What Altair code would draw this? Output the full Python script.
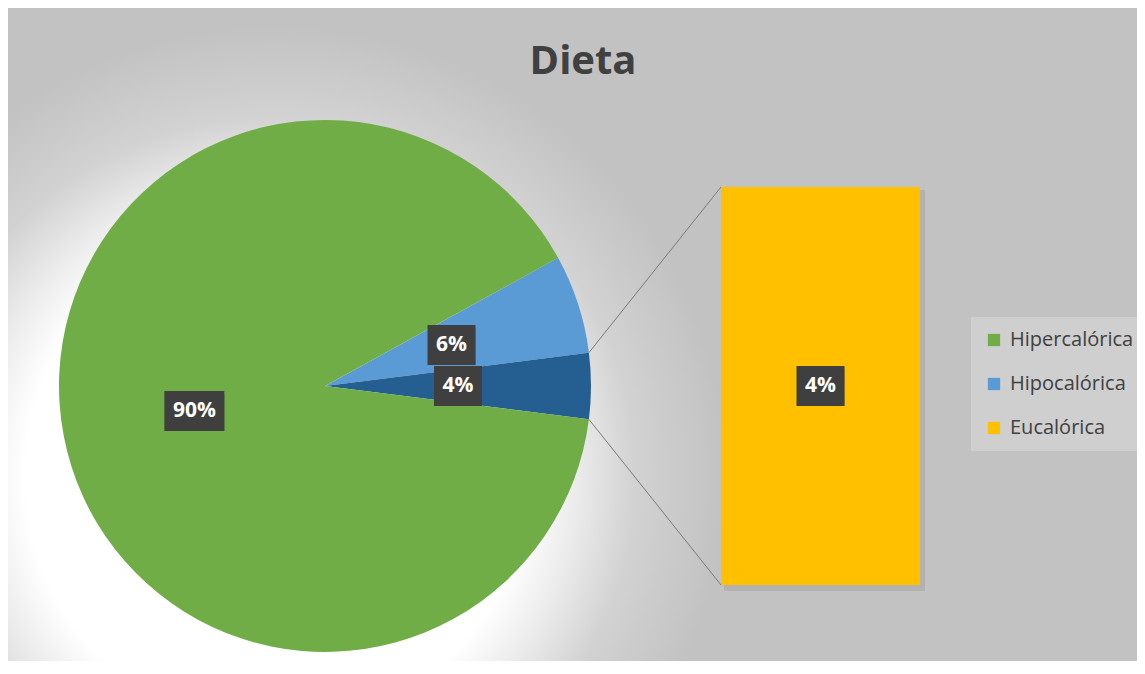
import math
import altair as alt
import pandas as pd

# ---------------- data ----------------
primary_categories = ["Hipercalórica", "Hipocalórica"]
primary_values = [90, 6]
secondary_categories = ["Eucalórica"]
secondary_values = [4]
other_name = "Otros"
chart_title = "Dieta"

# ---------------- layout (chart pixels) ----------------
W, H = 1129, 653
CX, CY, R = 317, 378, 266
LABEL_R = 133
BAR_X1, BAR_X2, BAR_TOP, BAR_BOT = 713, 912, 179, 577
BG = "#c2c2c2"
GREEN, LBLUE, DBLUE, YELLOW = "#70AD47", "#5B9BD5", "#255E91", "#FFC000"
FONT = "Open Sans"

other_val = sum(secondary_values)
pie_cats = [primary_categories[1], other_name, primary_categories[0]]
pie_vals = [primary_values[1], other_val, primary_values[0]]
total = sum(pie_vals)
# Excel pie-of-bar: the "other" slice is centred on 3 o'clock
start = math.pi / 2 - math.pi * other_val / total - 2 * math.pi * pie_vals[0] / total

rows, cum = [], 0
for i, (c, v) in enumerate(zip(pie_cats, pie_vals)):
    mid = start + 2 * math.pi * (cum + v / 2) / total
    lab = f"{v}%"
    rows.append(dict(cat=c, value=v, ord=i, label=lab,
                     lx=CX + LABEL_R * math.sin(mid), ly=CY - LABEL_R * math.cos(mid),
                     bw=12 * len(lab) + 24))
    cum += v
pie_df = pd.DataFrame(rows)

bar_df = pd.DataFrame({"cat": secondary_categories, "value": secondary_values})
bar_lab = pd.DataFrame({"label": [f"{v}%" for v in secondary_values],
                        "lx": [(BAR_X1 + BAR_X2) / 2], "ly": [(BAR_TOP + BAR_BOT) / 2]})
bar_lab["bw"] = bar_lab["label"].str.len() * 12 + 24
labels_df = pd.concat([pie_df[["label", "lx", "ly", "bw"]], bar_lab], ignore_index=True)
labels_df["x1"] = labels_df["lx"] - labels_df["bw"] / 2
labels_df["x2"] = labels_df["lx"] + labels_df["bw"] / 2
labels_df["y1"] = labels_df["ly"] - 20
labels_df["y2"] = labels_df["ly"] + 20

a1 = start + 2 * math.pi * pie_vals[0] / total
a2 = a1 + 2 * math.pi * other_val / total
conn_df = pd.DataFrame({
    "x1": [CX + R * math.sin(a1), CX + R * math.sin(a2)],
    "y1": [CY - R * math.cos(a1), CY - R * math.cos(a2)],
    "x2": [BAR_X1, BAR_X1],
    "y2": [BAR_TOP, BAR_BOT],
})

color = alt.Color(
    "cat:N",
    scale=alt.Scale(domain=primary_categories + secondary_categories + [other_name],
                    range=[GREEN, LBLUE, YELLOW, DBLUE]),
    legend=alt.Legend(
        orient="none", legendX=963, legendY=309, title=None,
        values=primary_categories + secondary_categories,
        symbolType="square", symbolSize=150, symbolStrokeWidth=0,
        labelFont=FONT, labelFontSize=20, labelColor="#404040", labelOffset=6,
        fillColor="#cfcfcf", padding=13, rowPadding=24,
    ),
)

one = pd.DataFrame({"a": [0]})

glow = alt.RadialGradient(
    gradient="radial", x1=0.5, y1=0.5, r1=0, x2=0.5, y2=0.5, r2=0.5,
    stops=[alt.GradientStop(offset=0, color="#ffffff"),
           alt.GradientStop(offset=0.5, color="#ffffff"),
           alt.GradientStop(offset=0.6, color="#ececec"),
           alt.GradientStop(offset=0.72, color="#d2d2d2"),
           alt.GradientStop(offset=0.9, color=BG),
           alt.GradientStop(offset=1, color=BG)],
)
GX, GY, GS = CX - 50, CY + 90, 500
bg = alt.Chart(one).mark_rect(clip=True, color=glow).encode(
    x=alt.value(GX - GS), x2=alt.value(GX + GS), y=alt.value(GY - GS), y2=alt.value(GY + GS))

bar_shadow = alt.Chart(one).mark_rect(color="black", opacity=0.08).encode(
    x=alt.value(BAR_X1 + 3), x2=alt.value(BAR_X2 + 5), y=alt.value(BAR_TOP + 3), y2=alt.value(BAR_BOT + 6))

connectors = alt.Chart(conn_df).mark_rule(color="#7a7a7a", strokeWidth=1).encode(
    x=alt.X("x1:Q", scale=None), y=alt.Y("y1:Q", scale=None),
    x2="x2:Q", y2="y2:Q")

pie = alt.Chart(pie_df).mark_arc(radius=R).encode(
    theta=alt.Theta("value:Q", stack=True,
                    scale=alt.Scale(domain=[0, total], range=[start, start + 2 * math.pi])),
    order=alt.Order("ord:Q"),
    color=color,
    x=alt.value(CX), y=alt.value(CY),
)

bar = alt.Chart(bar_df).transform_stack(
    stack="value", as_=["v0", "v1"], groupby=[]
).mark_rect().encode(
    y=alt.Y("v1:Q", scale=alt.Scale(domain=[0, other_val], range=[BAR_BOT, BAR_TOP]), axis=None),
    y2="v0:Q",
    x=alt.value(BAR_X1), x2=alt.value(BAR_X2),
    color=color,
)

box_shadow = alt.Chart(labels_df).mark_rect(color="black", opacity=0.3).encode(
    x=alt.X("x1:Q", scale=None), x2="x2:Q",
    y=alt.Y("y1:Q", scale=None), y2="y2:Q",
    xOffset=alt.value(3), yOffset=alt.value(3))

boxes = alt.Chart(labels_df).mark_rect(color="#3f3f3f").encode(
    x=alt.X("x1:Q", scale=None), x2="x2:Q",
    y=alt.Y("y1:Q", scale=None), y2="y2:Q")

texts = alt.Chart(labels_df).mark_text(
    font=FONT, fontSize=21, fontWeight="bold", color="white", baseline="middle", align="center"
).encode(x=alt.X("lx:Q", scale=None), y=alt.Y("ly:Q", scale=None), text="label:N")

title = alt.Chart(one).mark_text(
    font=FONT, fontSize=40, fontWeight="bold", color="#404040", baseline="middle", align="center"
).encode(x=alt.value(575), y=alt.value(54), text=alt.value(chart_title))

chart = alt.layer(
    bg, bar_shadow, connectors, pie, bar, box_shadow, boxes, texts, title
).resolve_scale(x="independent", y="independent").properties(
    width=W, height=H, padding=0, background=BG,
    autosize=alt.AutoSizeParams(type="none"),
).configure_view(stroke=None)

chart.save("out.html", embed_options={"renderer": "svg", "actions": False})
